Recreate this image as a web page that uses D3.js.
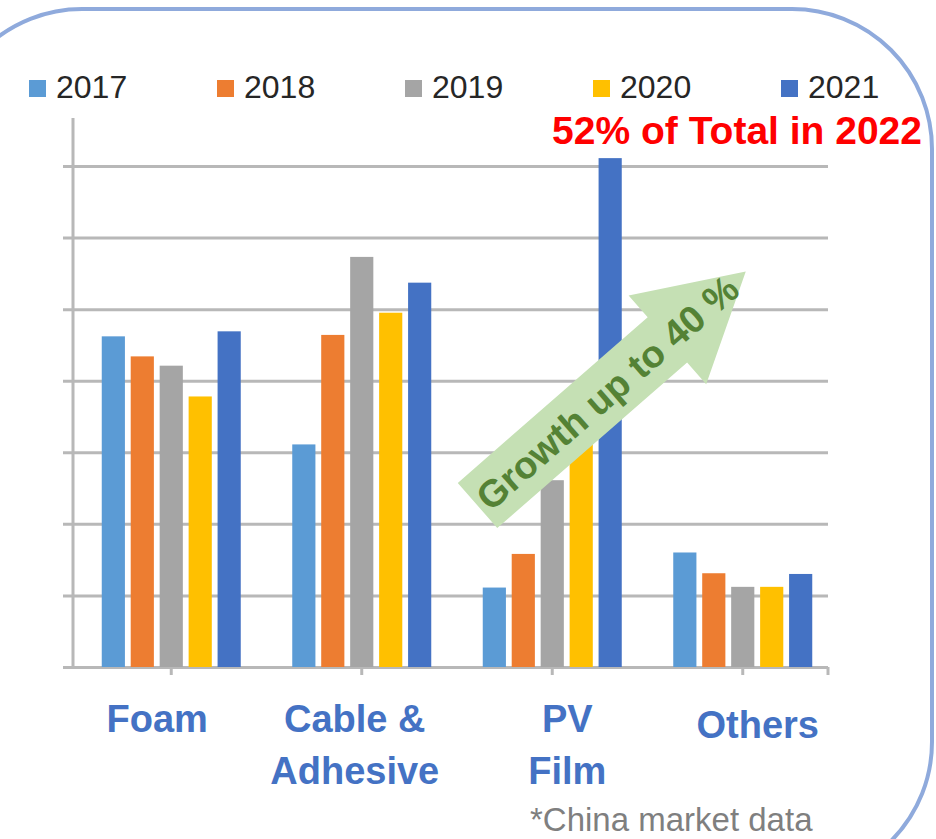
<!DOCTYPE html>
<html>
<head>
<meta charset="utf-8">
<script src="https://cdn.jsdelivr.net/npm/d3@7"></script>
<style>
  html, body { margin: 0; padding: 0; background: #fff; }
  svg { display: block; font-family: "Liberation Sans", Arial, sans-serif; }
</style>
</head>
<body>
<div id="chart"></div>
<script>
// categories and series
var categories = ['Foam', 'Cable & Adhesive', 'PV Film', 'Others'];
var categoryLines = [['Foam'], ['Cable &', 'Adhesive'], ['PV', 'Film'], ['Others']];
var years = ['2017', '2018', '2019', '2020', '2021'];
var colors = ['#5b9bd5', '#ed7d31', '#a5a5a5', '#ffc000', '#4472c4'];

// values, in gridline units (no tick labels shown)
var v2017 = [4.62, 3.11, 1.11, 1.60];
var v2018 = [4.34, 4.64, 1.58, 1.31];
var v2019 = [4.21, 5.73, 2.61, 1.12];
var v2020 = [3.78, 4.95, 3.70, 1.12];
var v2021 = [4.69, 5.37, 7.11, 1.30];
var series = [v2017, v2018, v2019, v2020, v2021];

var gridValues = [0, 1, 2, 3, 4, 5, 6, 7];

var width = 936, height = 839;

var svg = d3.select('#chart').append('svg')
	.attr('width', width)
	.attr('height', height);

svg.append('rect').attr('width', width).attr('height', height).attr('fill', '#fff');

// rounded frame, partly cut off by the picture edge
svg.append('rect')
	.attr('x', -58).attr('y', 9)
	.attr('width', 990).attr('height', 873)
	.attr('rx', 140).attr('ry', 140)
	.attr('fill', 'none')
	.attr('stroke', '#8faadc')
	.attr('stroke-width', 4);

var plot = {left: 73, right: 828, top: 118, bottom: 667};

var y = d3.scaleLinear().domain([0, 7]).range([plot.bottom, 166]);
var x0 = d3.scaleBand().domain(categories).range([76, 838]);
var groupWidth = 139;
var x1 = d3.scaleBand().domain(years)
	.range([(x0.bandwidth() - groupWidth) / 2, (x0.bandwidth() + groupWidth) / 2])
	.paddingInner(0.2);

// gridlines + y axis
var yAxis = d3.axisLeft(y).tickValues(gridValues).tickSize(-(plot.right - plot.left)).tickFormat('');
var gy = svg.append('g')
	.attr('transform', 'translate(' + plot.left + ',0)')
	.call(yAxis);
gy.select('.domain').remove();
gy.selectAll('.tick line')
	.attr('x1', -10)
	.attr('stroke', '#b8b8b8')
	.attr('stroke-width', 3);

svg.append('line')
	.attr('x1', plot.left).attr('x2', plot.left)
	.attr('y1', plot.top).attr('y2', plot.bottom)
	.attr('stroke', '#b8b8b8')
	.attr('stroke-width', 3);

// x axis ticks at group centres
var gx = svg.append('g')
	.attr('transform', 'translate(0,' + plot.bottom + ')')
	.call(d3.axisBottom(x0).tickSize(8).tickFormat(''));
gx.select('.domain').remove();
gx.selectAll('.tick line').attr('stroke', '#b8b8b8').attr('stroke-width', 3);
svg.append('line')
	.attr('x1', plot.right).attr('x2', plot.right)
	.attr('y1', plot.bottom).attr('y2', plot.bottom + 8)
	.attr('stroke', '#b8b8b8').attr('stroke-width', 3);

// bars
var groups = svg.selectAll('g.series')
	.data(series).enter()
	.append('g')
	.attr('class', 'series')
	.attr('fill', function(d, i) { return colors[i]; });

groups.selectAll('rect')
	.data(function(d, i) { return d.map(function(v, j) { return {year: years[i], cat: categories[j], value: v}; }); })
	.enter().append('rect')
	.attr('x', function(d) { return x0(d.cat) + x1(d.year); })
	.attr('y', function(d) { return y(d.value); })
	.attr('width', x1.bandwidth())
	.attr('height', function(d) { return y(0) - y(d.value); });

// category labels (the slide nudges them a little off the group centres)
var labelNudge = [[-14, 0], [-7, 0], [15, 0], [15, 6]];
var labels = svg.selectAll('text.cat')
	.data(categories).enter()
	.append('text')
	.attr('class', 'cat')
	.attr('text-anchor', 'middle')
	.attr('font-size', 38)
	.attr('font-weight', 'bold')
	.attr('fill', '#4472c4');
labels.each(function(d, i) {
	var t = d3.select(this);
	categoryLines[i].forEach(function(line, k) {
		t.append('tspan')
			.attr('x', x0(d) + x0.bandwidth() / 2 + labelNudge[i][0])
			.attr('y', 732 + labelNudge[i][1] + k * 52)
			.text(line);
	});
});

// legend
var legend = svg.selectAll('g.key')
	.data(years).enter()
	.append('g')
	.attr('class', 'key')
	.attr('transform', function(d, i) { return 'translate(' + (29 + i * 188) + ',80)'; });
legend.append('rect')
	.attr('width', 17).attr('height', 17)
	.attr('fill', function(d, i) { return colors[i]; });
legend.append('text')
	.attr('x', 27).attr('y', 18)
	.attr('font-size', 32)
	.attr('fill', '#262626')
	.text(function(d) { return d; });

// red note
svg.append('text')
	.attr('x', 922).attr('y', 144)
	.attr('text-anchor', 'end')
	.attr('font-size', 39)
	.attr('font-weight', 'bold')
	.attr('fill', '#ff0000')
	.text('52% of Total in 2022');

// growth arrow
var arrow = svg.append('g')
	.attr('transform', 'translate(477.5,505.5) rotate(-41.1)');
var shaft = 252, tip = 356, halfBody = 30, halfHead = 59;
arrow.append('path')
	.attr('d', 'M0,' + (-halfBody) + 'L' + shaft + ',' + (-halfBody) + 'L' + shaft + ',' + (-halfHead) +
		'L' + tip + ',0L' + shaft + ',' + halfHead + 'L' + shaft + ',' + halfBody + 'L0,' + halfBody + 'Z')
	.attr('fill', '#c5e0b4');
arrow.append('text')
	.attr('x', 172).attr('y', 0)
	.attr('dy', '0.36em')
	.attr('text-anchor', 'middle')
	.attr('font-size', 38)
	.attr('font-weight', 'bold')
	.attr('fill', '#548235')
	.text('Growth up to 40 %');

// footnote
svg.append('text')
	.attr('x', 530).attr('y', 831)
	.attr('font-size', 33)
	.attr('fill', '#7f7f7f')
	.text('*China market data');
</script>
</body>
</html>
